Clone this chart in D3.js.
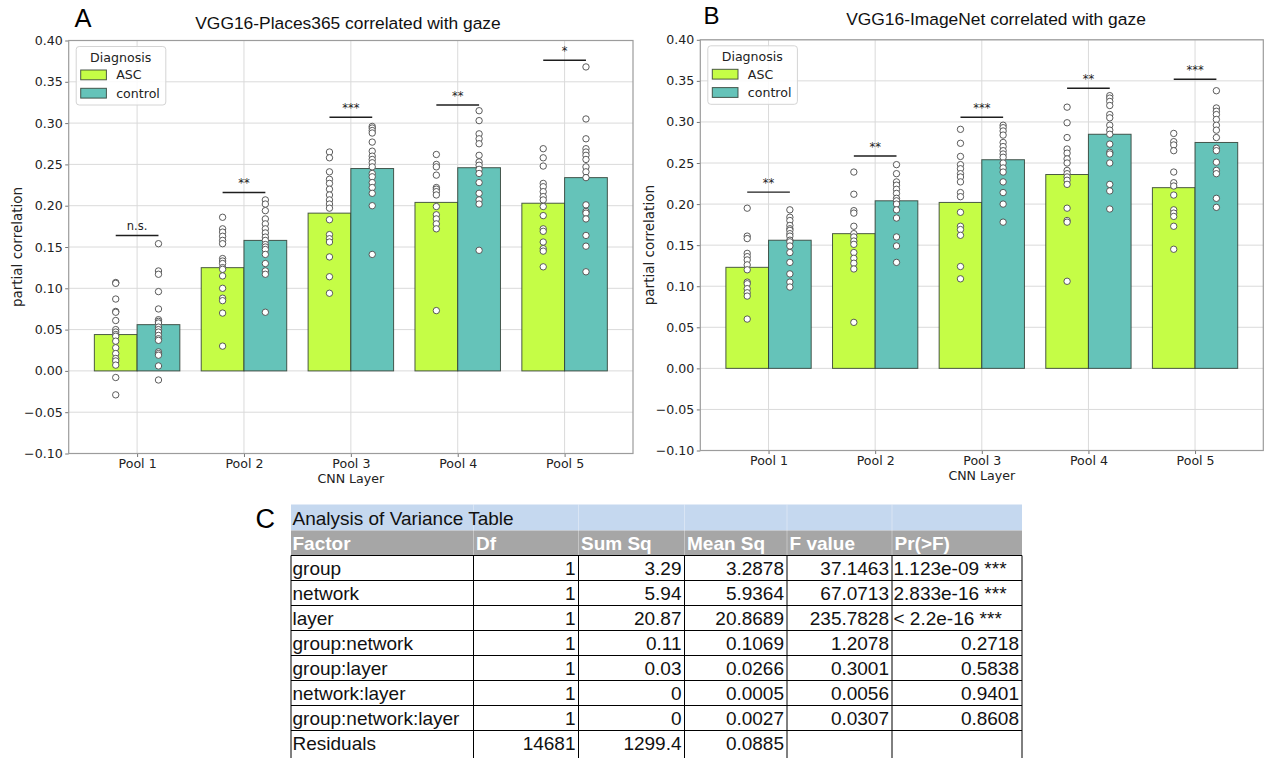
<!DOCTYPE html>
<html>
<head>
<meta charset="utf-8">
<script src="https://cdn.jsdelivr.net/npm/d3@7"></script>
<style>
  html, body { margin: 0; padding: 0; background: #fff; }
  svg { display: block; }
</style>
</head>
<body>
<svg id="fig" width="1267" height="758"></svg>
<script>
// ---------- data ----------
const layers = ["Pool 1", "Pool 2", "Pool 3", "Pool 4", "Pool 5"];
const diagnosis = ["ASC", "control"];
const yTicks = [-0.10, -0.05, 0.00, 0.05, 0.10, 0.15, 0.20, 0.25, 0.30, 0.35, 0.40];

// VGG16-Places365: group means per layer
const placesASC = [0.044, 0.125, 0.191, 0.204, 0.203];
const placesControl = [0.056, 0.158, 0.245, 0.246, 0.234];
// per-participant partial correlations
const placesASCSubjects = [
  [0.107, 0.106, 0.087, 0.072, 0.071, 0.061, 0.050, 0.047, 0.044, 0.042, 0.036, 0.028, 0.021, 0.015, 0.012, 0.007, -0.008, -0.029],
  [0.186, 0.172, 0.168, 0.163, 0.158, 0.154, 0.136, 0.133, 0.130, 0.125, 0.123, 0.115, 0.100, 0.088, 0.085, 0.070, 0.030],
  [0.265, 0.258, 0.241, 0.232, 0.227, 0.220, 0.213, 0.207, 0.202, 0.197, 0.183, 0.165, 0.160, 0.156, 0.138, 0.114, 0.094],
  [0.262, 0.250, 0.247, 0.237, 0.222, 0.220, 0.217, 0.213, 0.199, 0.189, 0.184, 0.178, 0.172, 0.073],
  [0.269, 0.258, 0.248, 0.227, 0.223, 0.217, 0.211, 0.207, 0.199, 0.188, 0.172, 0.169, 0.156, 0.148, 0.145, 0.126]
];
const placesControlSubjects = [
  [0.154, 0.121, 0.117, 0.096, 0.075, 0.062, 0.060, 0.058, 0.053, 0.050, 0.047, 0.043, 0.039, 0.037, 0.023, 0.021, 0.019, 0.006, -0.011],
  [0.207, 0.202, 0.194, 0.184, 0.178, 0.172, 0.167, 0.162, 0.158, 0.153, 0.150, 0.147, 0.141, 0.130, 0.121, 0.117, 0.071],
  [0.296, 0.294, 0.291, 0.288, 0.277, 0.266, 0.260, 0.256, 0.252, 0.247, 0.239, 0.235, 0.228, 0.222, 0.215, 0.200, 0.141],
  [0.315, 0.303, 0.287, 0.281, 0.275, 0.261, 0.253, 0.249, 0.244, 0.239, 0.228, 0.215, 0.207, 0.202, 0.146],
  [0.368, 0.305, 0.281, 0.269, 0.265, 0.261, 0.256, 0.247, 0.241, 0.234, 0.201, 0.193, 0.191, 0.184, 0.164, 0.151, 0.120]
];
const placesSigLabels = ["n.s.", "**", "***", "**", "*"];
const placesSigHeights = [0.164, 0.216, 0.307, 0.322, 0.376];

// VGG16-ImageNet: group means per layer
const imagenetASC = [0.123, 0.164, 0.202, 0.236, 0.220];
const imagenetControl = [0.156, 0.204, 0.254, 0.285, 0.275];
const imagenetASCSubjects = [
  [0.195, 0.161, 0.158, 0.140, 0.136, 0.132, 0.126, 0.120, 0.105, 0.103, 0.097, 0.092, 0.088, 0.060],
  [0.239, 0.212, 0.192, 0.189, 0.173, 0.164, 0.160, 0.155, 0.151, 0.141, 0.134, 0.128, 0.121, 0.056],
  [0.291, 0.274, 0.258, 0.248, 0.243, 0.237, 0.233, 0.227, 0.214, 0.209, 0.190, 0.173, 0.169, 0.162, 0.124, 0.109],
  [0.318, 0.299, 0.281, 0.267, 0.262, 0.255, 0.250, 0.241, 0.237, 0.233, 0.229, 0.224, 0.195, 0.180, 0.178, 0.106],
  [0.286, 0.276, 0.272, 0.265, 0.239, 0.226, 0.222, 0.211, 0.193, 0.189, 0.185, 0.173, 0.145]
];
const imagenetControlSubjects = [
  [0.193, 0.184, 0.180, 0.174, 0.170, 0.168, 0.164, 0.161, 0.156, 0.154, 0.149, 0.141, 0.129, 0.115, 0.105, 0.099],
  [0.248, 0.237, 0.227, 0.223, 0.218, 0.213, 0.207, 0.204, 0.200, 0.193, 0.183, 0.160, 0.149, 0.129],
  [0.296, 0.293, 0.289, 0.284, 0.275, 0.270, 0.265, 0.261, 0.257, 0.250, 0.244, 0.239, 0.227, 0.214, 0.200, 0.178],
  [0.332, 0.329, 0.325, 0.320, 0.309, 0.305, 0.296, 0.290, 0.285, 0.273, 0.263, 0.261, 0.250, 0.224, 0.216, 0.194],
  [0.338, 0.317, 0.313, 0.309, 0.303, 0.296, 0.290, 0.281, 0.268, 0.265, 0.251, 0.241, 0.237, 0.207, 0.196]
];
const imagenetSigLabels = ["**", "**", "***", "**", "***"];
const imagenetSigHeights = [0.2145, 0.2585, 0.3057, 0.3411, 0.352];

// ANOVA table
const anovaTitle = "Analysis of Variance Table";
const anovaHeaders = ["Factor", "Df", "Sum Sq", "Mean Sq", "F value", "Pr(>F)"];
const anovaFactors = ["group", "network", "layer", "group:network", "group:layer", "network:layer", "group:network:layer", "Residuals"];
const anovaDf = ["1", "1", "1", "1", "1", "1", "1", "14681"];
const anovaSumSq = ["3.29", "5.94", "20.87", "0.11", "0.03", "0", "0", "1299.4"];
const anovaMeanSq = ["3.2878", "5.9364", "20.8689", "0.1069", "0.0266", "0.0005", "0.0027", "0.0885"];
const anovaF = ["37.1463", "67.0713", "235.7828", "1.2078", "0.3001", "0.0056", "0.0307", ""];
const anovaP = ["1.123e-09 ***", "2.833e-16 ***", "< 2.2e-16 ***", "0.2718", "0.5838", "0.9401", "0.8608", ""];

// ---------- styling ----------
const colors = { ASC: "#c5fd46", control: "#65c3b9" };
const tickFont = "'DejaVu Sans', sans-serif";
const sansFont = "'Liberation Sans', Arial, Helvetica, sans-serif";

const svg = d3.select("#fig");

function drawPanel(p) {
  const x = d3.scaleLinear().domain([-0.64, 4.64]).range([p.left, p.right]);
  const y = d3.scaleLinear().domain([-0.10, 0.40]).range([p.bottom, p.top]);
  const g = svg.append("g");

  // grid
  g.append("g").selectAll("line").data(yTicks).join("line")
    .attr("x1", p.left).attr("x2", p.right)
    .attr("y1", d => y(d)).attr("y2", d => y(d))
    .attr("stroke", "#dadada").attr("stroke-width", 1);
  g.append("g").selectAll("line").data(layers).join("line")
    .attr("x1", (d, i) => x(i)).attr("x2", (d, i) => x(i))
    .attr("y1", p.top).attr("y2", p.bottom)
    .attr("stroke", "#dadada").attr("stroke-width", 1);

  // y axis
  const yAxis = d3.axisLeft(y).tickValues(yTicks).tickFormat(d3.format(".2f")).tickSize(3.5).tickPadding(2.5);
  const ya = g.append("g").attr("transform", `translate(${p.left},0)`).call(yAxis);
  ya.select(".domain").remove();
  ya.selectAll(".tick line").attr("stroke", "#777");
  ya.selectAll(".tick text").attr("font-family", tickFont).attr("font-size", 12.6).attr("fill", "#222");

  // x axis
  const xAxis = d3.axisBottom(x).tickValues(d3.range(layers.length)).tickFormat(i => layers[i]).tickSize(3.5).tickPadding(2.5);
  const xa = g.append("g").attr("transform", `translate(0,${p.bottom})`).call(xAxis);
  xa.select(".domain").remove();
  xa.selectAll(".tick line").attr("stroke", "#777");
  xa.selectAll(".tick text").attr("font-family", tickFont).attr("font-size", 12.6).attr("fill", "#222");

  // bars
  const series = [
    { key: "ASC", means: p.asc, subjects: p.ascSubjects, offset: -0.2 },
    { key: "control", means: p.control, subjects: p.controlSubjects, offset: 0.2 }
  ];
  series.forEach(s => {
    g.append("g").selectAll("rect").data(s.means).join("rect")
      .attr("x", (d, i) => x(i + s.offset - 0.2))
      .attr("width", (d, i) => x(i + s.offset + 0.2) - x(i + s.offset - 0.2))
      .attr("y", d => y(Math.max(d, 0)))
      .attr("height", d => Math.abs(y(d) - y(0)))
      .attr("fill", colors[s.key])
      .attr("stroke", "#2f3d33").attr("stroke-opacity", 0.85).attr("stroke-width", 1);
  });

  // participant points
  series.forEach(s => {
    const pts = s.subjects.flatMap((arr, i) => arr.map(v => ({ i, v })));
    g.append("g").selectAll("circle").data(pts).join("circle")
      .attr("cx", d => x(d.i + s.offset))
      .attr("cy", d => y(d.v))
      .attr("r", 3.2)
      .attr("fill", "#fff").attr("stroke", "#4a4a4a").attr("stroke-width", 0.9);
  });

  // significance brackets
  const sig = g.append("g");
  sig.selectAll("line").data(p.sigHeights).join("line")
    .attr("x1", (d, i) => x(i - 0.2)).attr("x2", (d, i) => x(i + 0.2))
    .attr("y1", d => y(d)).attr("y2", d => y(d))
    .attr("stroke", "#1e1e1e").attr("stroke-width", 1.4);
  sig.selectAll("text").data(p.sigHeights).join("text")
    .attr("x", (d, i) => x(i)).attr("y", d => y(d) - 5)
    .attr("text-anchor", "middle")
    .attr("font-family", tickFont).attr("font-size", 11.5).attr("fill", "#222")
    .text((d, i) => p.sigLabels[i]);

  // frame
  g.append("rect")
    .attr("x", p.left).attr("y", p.top)
    .attr("width", p.right - p.left).attr("height", p.bottom - p.top)
    .attr("fill", "none").attr("stroke", "#9c9c9c").attr("stroke-width", 1.2);

  // axis labels
  g.append("text")
    .attr("x", x(2)).attr("y", p.bottom + 29)
    .attr("text-anchor", "middle")
    .attr("font-family", tickFont).attr("font-size", 12.6).attr("fill", "#222")
    .text("CNN Layer");
  g.append("text")
    .attr("transform", `translate(${p.ylabelX},${(p.top + p.bottom) / 2}) rotate(-90)`)
    .attr("text-anchor", "middle").attr("dominant-baseline", "central")
    .attr("font-family", tickFont).attr("font-size", 13.5).attr("fill", "#222")
    .text("partial correlation");

  // title and panel letter
  g.append("text")
    .attr("x", p.titleX).attr("y", p.titleY)
    .attr("text-anchor", "middle")
    .attr("font-family", sansFont).attr("font-size", 17.4).attr("fill", "#111")
    .text(p.title);
  g.append("text")
    .attr("x", p.letterX).attr("y", p.letterY)
    .attr("font-family", sansFont).attr("font-size", p.letterSize).attr("fill", "#000")
    .text(p.letter);

  // legend
  const lg = g.append("g").attr("transform", `translate(${p.left + 7.5},${p.top + 6})`);
  lg.append("rect")
    .attr("width", 89.6).attr("height", 58.5).attr("rx", 3)
    .attr("fill", "#fff").attr("fill-opacity", 0.85)
    .attr("stroke", "#d4d4d4").attr("stroke-width", 1);
  lg.append("text")
    .attr("x", 44.5).attr("y", 15.5).attr("text-anchor", "middle")
    .attr("font-family", tickFont).attr("font-size", 12.6).attr("fill", "#222")
    .text("Diagnosis");
  diagnosis.forEach((name, k) => {
    lg.append("rect")
      .attr("x", 4.5).attr("y", 23.5 + k * 18.3)
      .attr("width", 25.7).attr("height", 9.8)
      .attr("fill", colors[name])
      .attr("stroke", "#2f3d33").attr("stroke-opacity", 0.85).attr("stroke-width", 1);
    lg.append("text")
      .attr("x", 40).attr("y", 28.4 + k * 18.3).attr("dominant-baseline", "central")
      .attr("font-family", tickFont).attr("font-size", 12.6).attr("fill", "#222")
      .text(name);
  });
}

drawPanel({
  left: 68.7, right: 633, top: 40.5, bottom: 453.5,
  asc: placesASC, control: placesControl,
  ascSubjects: placesASCSubjects, controlSubjects: placesControlSubjects,
  sigLabels: placesSigLabels, sigHeights: placesSigHeights,
  title: "VGG16-Places365 correlated with gaze", titleX: 348, titleY: 29.2,
  letter: "A", letterX: 74.5, letterY: 26.7, letterSize: 25.5,
  ylabelX: 17
});

drawPanel({
  left: 700.3, right: 1263.3, top: 39.8, bottom: 450.5,
  asc: imagenetASC, control: imagenetControl,
  ascSubjects: imagenetASCSubjects, controlSubjects: imagenetControlSubjects,
  sigLabels: imagenetSigLabels, sigHeights: imagenetSigHeights,
  title: "VGG16-ImageNet correlated with gaze", titleX: 996, titleY: 25,
  letter: "B", letterX: 703.5, letterY: 24.2, letterSize: 24,
  ylabelX: 648.5
});

// ---------- ANOVA table ----------
(function drawTable() {
  const colEdges = [291, 473.5, 578.5, 684.5, 787, 892, 1022];
  const titleTop = 504.5, headTop = 530.5, bodyTop = 555.5, rowH = 25;
  const t = svg.append("g").attr("font-family", sansFont);

  const rowScale = d3.scaleLinear().domain([0, 1]).range([bodyTop, bodyTop + rowH]);

  // title band
  t.append("rect").attr("x", colEdges[0]).attr("y", titleTop)
    .attr("width", colEdges[6] - colEdges[0]).attr("height", headTop - titleTop)
    .attr("fill", "#c5d8ef");
  // header band
  t.append("rect").attr("x", colEdges[0]).attr("y", headTop)
    .attr("width", colEdges[6] - colEdges[0]).attr("height", bodyTop - headTop)
    .attr("fill", "#a6a6a6");
  // faint column separators in the bands
  t.append("g").selectAll("line").data(colEdges.slice(1, 6)).join("line")
    .attr("x1", d => d).attr("x2", d => d)
    .attr("y1", titleTop).attr("y2", bodyTop)
    .attr("stroke", "#fff").attr("stroke-opacity", 0.35).attr("stroke-width", 1);

  t.append("text").attr("x", colEdges[0] + 1.5).attr("y", titleTop + 20)
    .attr("font-size", 19).attr("fill", "#111").text(anovaTitle);

  t.append("g").selectAll("text").data(anovaHeaders).join("text")
    .attr("x", (d, i) => colEdges[i] + (i === 0 ? 1.5 : 2.5))
    .attr("y", headTop + 19.5)
    .attr("font-size", 19).attr("font-weight", "bold").attr("fill", "#fff")
    .text(d => d);

  // body grid
  const nRows = anovaFactors.length;
  t.append("g").selectAll("line").data(d3.range(nRows)).join("line")
    .attr("x1", colEdges[0]).attr("x2", colEdges[6])
    .attr("y1", i => rowScale(i)).attr("y2", i => rowScale(i))
    .attr("stroke", "#000").attr("stroke-width", 1);
  t.append("g").selectAll("line").data(colEdges).join("line")
    .attr("x1", d => d).attr("x2", d => d)
    .attr("y1", bodyTop).attr("y2", 758)
    .attr("stroke", "#000").attr("stroke-width", 1);

  const cols = [anovaFactors, anovaDf, anovaSumSq, anovaMeanSq, anovaF, anovaP];
  cols.forEach((col, c) => {
    t.append("g").selectAll("text").data(col).join("text")
      .attr("x", d => (c === 0 || d.includes("*")) ? colEdges[c] + 1.5 : colEdges[c + 1] - 3)
      .attr("y", (d, r) => rowScale(r) + 19)
      .attr("text-anchor", d => (c === 0 || d.includes("*")) ? "start" : "end")
      .attr("font-size", 19).attr("fill", "#111")
      .text(d => d);
  });

  svg.append("text").attr("x", 255.5).attr("y", 528)
    .attr("font-family", sansFont).attr("font-size", 27).attr("fill", "#000")
    .text("C");
})();
</script>
</body>
</html>
